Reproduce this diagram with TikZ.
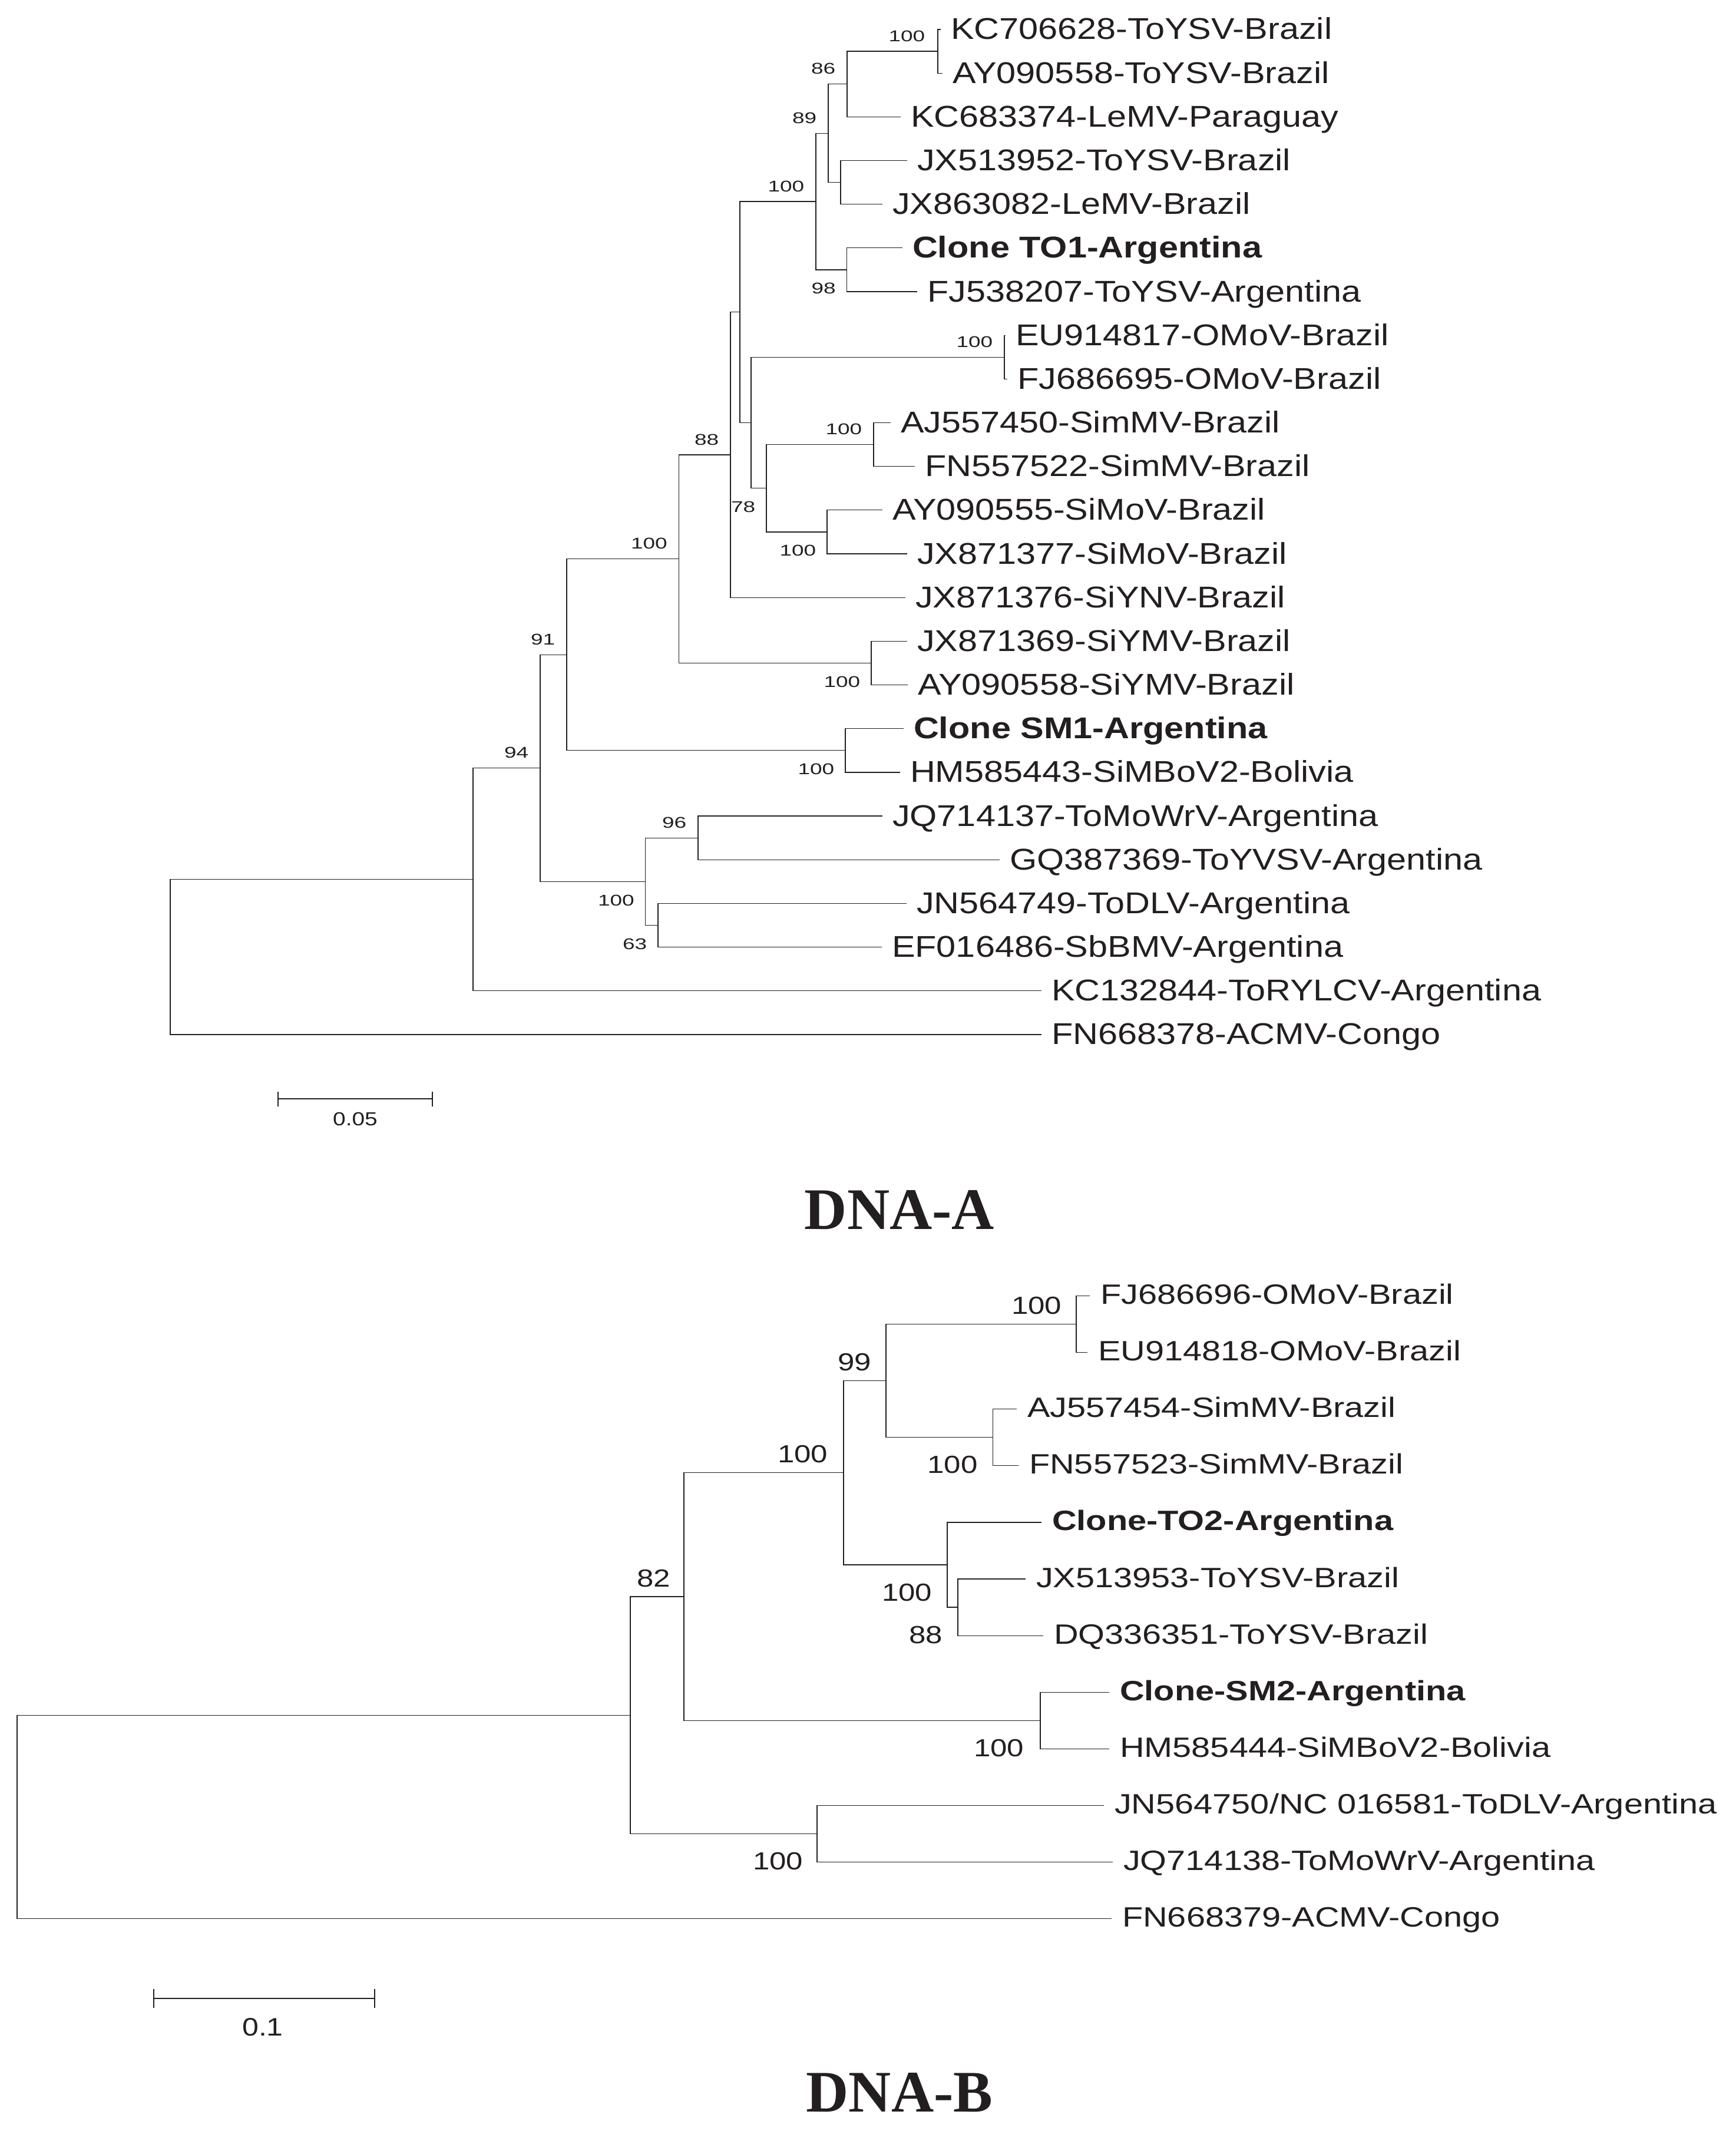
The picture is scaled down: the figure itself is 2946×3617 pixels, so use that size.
\documentclass[tikz,border=0pt]{standalone}
\usepackage{fontspec}
\setmainfont{Liberation Sans}
\newfontfamily\fA[FakeStretch=1.165]{Liberation Sans}
\newfontfamily\fB[FakeStretch=1.215]{Liberation Sans}
\newfontfamily\fC[FakeStretch=1.4]{Liberation Sans}
\newfontfamily\fT{Liberation Serif}
\usetikzlibrary{calc}
\definecolor{ink}{RGB}{35,31,32}
\begin{document}
\begin{tikzpicture}[x=0.25pt,y=-0.25pt,
  br/.style={draw=ink, line width=0.3pt},
  barline/.style={draw=ink, line width=0.45pt},
  leafA/.style={anchor=west, inner xsep=4.25pt, inner ysep=0pt, outer sep=0pt,
    text height=8.5pt, text depth=0pt, text=ink, font=\fA\fontsize{12.75pt}{14pt}\selectfont},
  leafB/.style={anchor=west, inner xsep=4.5pt, inner ysep=0pt, outer sep=0pt,
    text height=7pt, text depth=0pt, text=ink, font=\fB\fontsize{11.875pt}{13pt}\selectfont},
  bsA/.style={anchor=base east, inner sep=0pt, text=ink, font=\fC\fontsize{6.6pt}{7pt}\selectfont},
  bsB/.style={anchor=base east, inner sep=0pt, text=ink, font=\fB\fontsize{10.5pt}{12pt}\selectfont},
  ttl/.style={anchor=base, inner sep=0pt, text=ink, font=\fT\bfseries\fontsize{25pt}{28pt}\selectfont},
  sclab/.style={anchor=base, inner sep=0pt, text=ink}
]
\fill[white] (0,0) rectangle (2946,3617);
\useasboundingbox (0,0) rectangle (2946,3617);

% ---------------- DNA-A tree ----------------
\node[leafA] (t1) at (1597,50) {KC706628-ToYSV-Brazil};
\node[leafA] (t2) at (1600,124.17) {AY090558-ToYSV-Brazil};
\node[leafA] (t3) at (1529,198.34) {KC683374-LeMV-Paraguay};
\node[leafA] (t4) at (1540,272.51) {JX513952-ToYSV-Brazil};
\node[leafA] (t5) at (1498,346.68) {JX863082-LeMV-Brazil};
\node[leafA] (t6) at (1532,420.85) {\bfseries Clone TO1-Argentina};
\node[leafA] (t7) at (1557,495.02) {FJ538207-ToYSV-Argentina};
\node[leafA] (t8) at (1707,569.19) {EU914817-OMoV-Brazil};
\node[leafA] (t9) at (1710,643.36) {FJ686695-OMoV-Brazil};
\node[leafA] (t10) at (1512,717.53) {AJ557450-SimMV-Brazil};
\node[leafA] (t11) at (1553,791.7) {FN557522-SimMV-Brazil};
\node[leafA] (t12) at (1498,865.87) {AY090555-SiMoV-Brazil};
\node[leafA] (t13) at (1540,940.04) {JX871377-SiMoV-Brazil};
\node[leafA] (t14) at (1537,1014.21) {JX871376-SiYNV-Brazil};
\node[leafA] (t15) at (1540,1088.38) {JX871369-SiYMV-Brazil};
\node[leafA] (t16) at (1541,1162.55) {AY090558-SiYMV-Brazil};
\node[leafA] (t17) at (1534,1236.72) {\bfseries Clone SM1-Argentina};
\node[leafA] (t18) at (1528,1310.89) {HM585443-SiMBoV2-Bolivia};
\node[leafA] (t19) at (1498,1385.06) {JQ714137-ToMoWrV-Argentina};
\node[leafA] (t20) at (1697,1459.23) {GQ387369-ToYVSV-Argentina};
\node[leafA] (t21) at (1539,1533.4) {JN564749-ToDLV-Argentina};
\node[leafA] (t22) at (1497,1607.57) {EF016486-SbBMV-Argentina};
\node[leafA] (t23) at (1768,1681.74) {KC132844-ToRYLCV-Argentina};
\node[leafA] (t24) at (1768,1755.91) {FN668378-ACMV-Congo};

\coordinate (A) at (1592,87.09);
\coordinate (B) at (1438,142.71);
\coordinate (D) at (1427,309.6);
\coordinate (C) at (1406,226.15);
\coordinate (F) at (1437.5,457.94);
\coordinate (E) at (1385,342.04);
\coordinate (OM) at (1705,606.28);
\coordinate (Sm) at (1483,754.62);
\coordinate (Si) at (1404,902.96);
\coordinate (K) at (1301,828.79);
\coordinate (I) at (1275,717.53);
\coordinate (G) at (1256,529.79);
\coordinate (H) at (1240,772.0);
\coordinate (SY) at (1479,1125.47);
\coordinate (J) at (1152.5,948.74);
\coordinate (SM) at (1435,1273.81);
\coordinate (L) at (962,1111.27);
\coordinate (O) at (1185,1422.15);
\coordinate (P) at (1117,1570.49);
\coordinate (N) at (1095.5,1496.32);
\coordinate (M) at (917,1303.8);
\coordinate (Q) at (803,1492.77);
\coordinate (R) at (289,1624.34);

\draw[br] (t1.west) -| (A) |- (t2.west);
\draw[br] (A) -| (B) |- (t3.west);
\draw[br] (t4.west) -| (D) |- (t5.west);
\draw[br] (B) -| (C) |- (D);
\draw[br] (t6.west) -| (F) |- (t7.west);
\draw[br] (C) -| (E) |- (F);
\draw[br] (t8.west) -| (OM) |- (t9.west);
\draw[br] (t10.west) -| (Sm) |- (t11.west);
\draw[br] (t12.west) -| (Si) |- (t13.west);
\draw[br] (Sm) -| (K) |- (Si);
\draw[br] (OM) -| (I) |- (K);
\draw[br] (E) -| (G) |- (I);
\draw[br] (G) -| (H) |- (t14.west);
\draw[br] (t15.west) -| (SY) |- (t16.west);
\draw[br] (H) -| (J) |- (SY);
\draw[br] (t17.west) -| (SM) |- (t18.west);
\draw[br] (J) -| (L) |- (SM);
\draw[br] (t19.west) -| (O) |- (t20.west);
\draw[br] (t21.west) -| (P) |- (t22.west);
\draw[br] (O) -| (N) |- (P);
\draw[br] (L) -| (M) |- (N);
\draw[br] (M) -| (Q) |- (t23.west);
\draw[br] (Q) -| (R) |- (t24.west);

% bootstrap values (DNA-A)
\node[bsA] (lA) at ($(A)+(-21,-17)$) {100};
\node[bsA] (lB) at ($(B)+(-19,-17)$) {86};
\node[bsA] (lC) at ($(C)+(-19,-17)$) {89};
\node[bsA] (lE) at ($(E)+(-19,-17)$) {100};
\node[bsA] (lOM) at ($(OM)+(-19,-17)$) {100};
\node[bsA] (lSm) at ($(Sm)+(-19,-17)$) {100};
\node[bsA] (lH) at ($(H)+(-19,-17)$) {88};
\node[bsA] (lJ) at ($(J)+(-19,-17)$) {100};
\node[bsA] (lL) at ($(L)+(-19,-17)$) {91};
\node[bsA] (lM) at ($(M)+(-19,-17)$) {94};
\node[bsA] (lO) at ($(O)+(-19,-17)$) {96};
\node[bsA] (lF) at ($(F)+(-18,41)$) {98};
\node[bsA] (lK) at ($(K)+(-18,41)$) {78};
\node[bsA] (lSi) at ($(Si)+(-18,41)$) {100};
\node[bsA] (lSY) at ($(SY)+(-18,41)$) {100};
\node[bsA] (lSM) at ($(SM)+(-18,41)$) {100};
\node[bsA] (lN) at ($(N)+(-18,41)$) {100};
\node[bsA] (lP) at ($(P)+(-18,41)$) {63};

% scale bar A
\coordinate (sa1) at (472,1865);
\coordinate (sa2) at (734,1865);
\draw[barline] (sa1) -- (sa2);
\draw[barline] ($(sa1)+(0,-12)$) -- ($(sa1)+(0,13)$);
\draw[barline] ($(sa2)+(0,-12)$) -- ($(sa2)+(0,13)$);
\node[sclab, font=\fB\fontsize{8pt}{9pt}\selectfont] (sal) at (603,1910) {0.05};

\node[ttl] (tA) at (1527,2086) {DNA-A};

% ---------------- DNA-B tree ----------------
\node[leafB] (u1) at (1850,2199.5) {FJ686696-OMoV-Brazil};
\node[leafB] (u2) at (1846,2295.6) {EU914818-OMoV-Brazil};
\node[leafB] (u3) at (1726,2391.7) {AJ557454-SimMV-Brazil};
\node[leafB] (u4) at (1729,2487.8) {FN557523-SimMV-Brazil};
\node[leafB] (u5) at (1768,2583.9) {\bfseries Clone-TO2-Argentina};
\node[leafB] (u6) at (1741,2680.0) {JX513953-ToYSV-Brazil};
\node[leafB] (u7) at (1771,2776.1) {DQ336351-ToYSV-Brazil};
\node[leafB] (u8) at (1883,2872.2) {\bfseries Clone-SM2-Argentina};
\node[leafB] (u9) at (1883,2968.3) {HM585444-SiMBoV2-Bolivia};
\node[leafB] (u10) at (1874,3064.4) {JN564750/NC 016581-ToDLV-Argentina};
\node[leafB] (u11) at (1889,3160.5) {JQ714138-ToMoWrV-Argentina};
\node[leafB] (u12) at (1887,3256.6) {FN668379-ACMV-Congo};

\coordinate (b1) at (1827,2247.55);
\coordinate (b2) at (1685.5,2439.75);
\coordinate (b3) at (1504,2343.65);
\coordinate (b7) at (1626,2728.05);
\coordinate (b6) at (1608,2655.98);
\coordinate (b4) at (1432,2499.8);
\coordinate (b8) at (1766,2920.25);
\coordinate (b5) at (1161,2710.0);
\coordinate (b9) at (1387,3112.45);
\coordinate (b10) at (1070,2911.2);
\coordinate (rB) at (29,3083.9);

\draw[br] (u1.west) -| (b1) |- (u2.west);
\draw[br] (u3.west) -| (b2) |- (u4.west);
\draw[br] (b1) -| (b3) |- (b2);
\draw[br] (u6.west) -| (b7) |- (u7.west);
\draw[br] (u5.west) -| (b6) |- (b7);
\draw[br] (b3) -| (b4) |- (b6);
\draw[br] (u8.west) -| (b8) |- (u9.west);
\draw[br] (b4) -| (b5) |- (b8);
\draw[br] (u10.west) -| (b9) |- (u11.west);
\draw[br] (b5) -| (b10) |- (b9);
\draw[br] (b10) -| (rB) |- (u12.west);

% bootstrap values (DNA-B)
\node[bsB] (m1) at ($(b1)+(-24,-17)$) {100};
\node[bsB] (m3) at ($(b3)+(-24,-17)$) {99};
\node[bsB] (m4) at ($(b4)+(-26,-17)$) {100};
\node[bsB] (m5) at ($(b5)+(-22,-17)$) {82};
\node[bsB] (m2) at ($(b2)+(-25,61)$) {100};
\node[bsB] (m6) at ($(b6)+(-25,61)$) {100};
\node[bsB] (m7) at ($(b7)+(-25,61)$) {88};
\node[bsB] (m8) at ($(b8)+(-27,61)$) {100};
\node[bsB] (m9) at ($(b9)+(-23,61)$) {100};

% scale bar B
\coordinate (sb1) at (261,3392);
\coordinate (sb2) at (636,3392);
\draw[barline] (sb1) -- (sb2);
\draw[barline] ($(sb1)+(0,-16)$) -- ($(sb1)+(0,16)$);
\draw[barline] ($(sb2)+(0,-16)$) -- ($(sb2)+(0,16)$);
\node[sclab, font=\fA\fontsize{10.75pt}{12pt}\selectfont] (sbl) at (446,3455) {0.1};

\node[ttl] (tB) at (1527,3584) {DNA-B};
\end{tikzpicture}
\end{document}
